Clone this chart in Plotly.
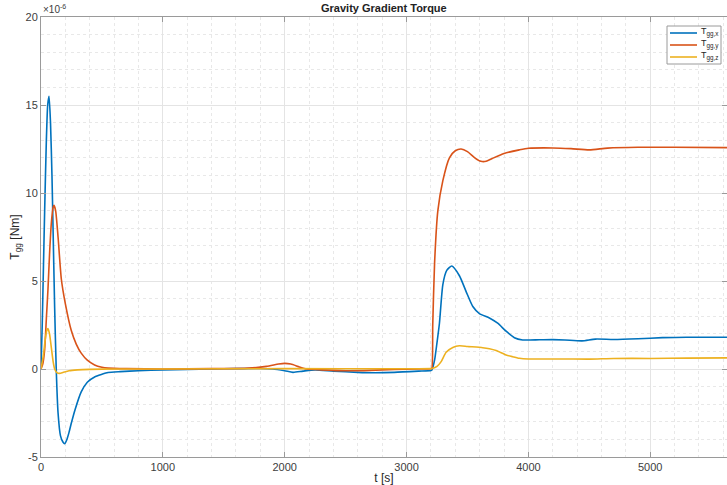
import plotly.graph_objects as go

# ---- data (values in units of 1e-6 Nm) ----
t_x = [0, 10, 20, 30, 44, 55, 66, 78, 90, 98, 112, 125, 140, 160, 180, 194, 210, 230, 248, 280,
       330, 380, 440, 500, 550, 650, 800, 1000, 1200, 1400, 1600, 1800, 1900, 2000, 2068, 2150,
       2250, 2400, 2600, 2720, 2900, 3100, 3200, 3208, 3230, 3250, 3270, 3298, 3330, 3372,
       3434, 3489, 3544, 3598, 3680, 3748, 3817, 3885, 3953, 4090, 4200, 4300, 4440,
       4550, 4700, 4900, 5100, 5300, 5630]
T_x = [0, 2.5, 5.8, 9.0, 13.0, 15.0, 15.5, 14.0, 11.0, 8.3, 3.5, 0, -2.5, -3.8, -4.15, -4.25, -4.05,
       -3.6, -3.1, -2.3, -1.3, -0.75, -0.45, -0.3, -0.2, -0.15, -0.1, -0.05, -0.03, 0, 0.02, 0.03,
       0, -0.1, -0.19, -0.12, -0.05, -0.12, -0.19, -0.21, -0.19, -0.12, -0.08, -0.05, 0.5, 1.5,
       2.6, 4.8, 5.6, 5.85, 5.3, 4.4, 3.55, 3.15, 2.9, 2.6, 2.15, 1.78, 1.65, 1.66,
       1.67, 1.65, 1.6, 1.7, 1.68, 1.72, 1.78, 1.8, 1.8]

t_y = [0, 15, 30, 45, 57, 70, 85, 100, 107, 120, 140, 167, 200, 248, 290, 330, 380, 440, 500,
       550, 700, 1000, 1400, 1700, 1850, 1950, 2000, 2050, 2120, 2180, 2300, 2500, 2700, 2900,
       3100, 3200, 3208, 3215, 3230, 3257, 3298, 3352, 3400, 3448, 3500, 3560, 3610, 3653, 3700,
       3800, 3926, 4000, 4200, 4350, 4500, 4650, 4900, 5200, 5630]
T_y = [0, 0.3, 1.1, 3.0, 4.5, 6.5, 8.3, 9.2, 9.3, 9.0, 7.5, 5.1, 3.7, 2.2, 1.4, 0.9, 0.5, 0.23,
       0.1, 0.05, 0.02, 0, 0.02, 0.05, 0.15, 0.28, 0.32, 0.28, 0.12, 0.0, -0.05, -0.1, -0.08,
       -0.02, 0.0, 0.02, 0.05, 2.5, 6.0, 9.0, 10.7, 12.0, 12.4, 12.5, 12.35, 12.0, 11.8, 11.8,
       11.95, 12.25, 12.45, 12.54, 12.56, 12.52, 12.45, 12.55, 12.6, 12.6, 12.58]

t_z = [0, 20, 35, 48, 57, 70, 85, 100, 112, 130, 153, 180, 230, 300, 400, 600, 1000, 2000, 3000,
       3200, 3210, 3250, 3284, 3325, 3380, 3434, 3500, 3625, 3680, 3735, 3817, 3870, 3926, 4000,
       4300, 4500, 4700, 5000, 5300, 5630]
T_z = [0, 0.8, 1.7, 2.2, 2.3, 2.0, 1.2, 0.4, 0, -0.2, -0.25, -0.2, -0.1, -0.05, -0.02, 0, 0,
       0.02, 0.01, 0.02, 0.03, 0.15, 0.42, 0.95, 1.22, 1.32, 1.28, 1.21, 1.15, 1.05, 0.8, 0.7, 0.61,
       0.57, 0.57, 0.56, 0.6, 0.6, 0.62, 0.63]

names = ["T<sub>gg,x</sub>", "T<sub>gg,y</sub>", "T<sub>gg,z</sub>"]
colors = ["#0072BD", "#D95319", "#EDB120"]

y_tickvals = [-5, 0, 5, 10, 15, 20]
y_ticktext = ["-5", "0", "5", "10", "15", "20"]
x_tickvals = [0, 1000, 2000, 3000, 4000, 5000]

font = "Liberation Sans, Arial, sans-serif"

W, H = 727, 485
ML, MR, MT, MB = 41, 0, 17, 28
PW, PH = W - ML - MR, H - MT - MB


def px(xp):
    return (xp - ML) / PW


def py(yp):
    return (H - MB - yp) / PH


fig = go.Figure()
for t, v, n, c in zip([t_x, t_y, t_z], [T_x, T_y, T_z], names, colors):
    fig.add_trace(go.Scatter(x=t, y=v, mode="lines", name=n, showlegend=False,
                             line=dict(color=c, width=1.6, shape="spline", smoothing=0.6)))

axis_common = dict(
    showline=True, linecolor="#9a9a9a", linewidth=1, mirror="ticks",
    ticks="inside", ticklen=5, tickcolor="#9a9a9a",
    showgrid=True, gridcolor="#e4e4e4", gridwidth=1, zeroline=False,
    tickfont=dict(family=font, size=11, color="#404040"),
    automargin=False,
)

fig.update_layout(
    width=W, height=H,
    margin=dict(l=ML, r=MR, t=MT, b=MB),
    plot_bgcolor="white", paper_bgcolor="white",
    font=dict(family=font, color="#262626"),
    showlegend=False,
    xaxis=dict(range=[0, 5630], tickvals=x_tickvals,
               minor=dict(dtick=200, showgrid=True, gridcolor="#e8e8e8", griddash="dot",
                          ticks=""),
               title=dict(text="t [s]", font=dict(family=font, size=12, color="#262626"),
                          standoff=4),
               **axis_common),
    yaxis=dict(range=[-5, 20], tickvals=y_tickvals, ticktext=y_ticktext,
               minor=dict(dtick=1, showgrid=True, gridcolor="#e8e8e8", griddash="dot",
                          ticks=""),
               title=dict(text="T<sub>gg</sub> [Nm]",
                          font=dict(family=font, size=12, color="#262626"),
                          standoff=3),
               **axis_common),
)

# manual legend (compact, MATLAB style)
fig.add_shape(type="rect", xref="paper", yref="paper",
              x0=px(667), x1=px(721), y0=py(64), y1=py(26),
              line=dict(color="#9a9a9a", width=1), fillcolor="white", layer="above")
leg_y = [33, 45, 57]
for yy, n, c in zip(leg_y, names, colors):
    fig.add_shape(type="line", xref="paper", yref="paper",
                  x0=px(670), x1=px(697), y0=py(yy), y1=py(yy),
                  line=dict(color=c, width=1.6), layer="above")
    fig.add_annotation(text=n, xref="paper", yref="paper", x=px(699), y=py(yy),
                       xanchor="left", yanchor="middle", yshift=1, showarrow=False,
                       font=dict(family=font, size=9, color="#262626"))

fig.add_annotation(text="<b>Gravity Gradient Torque</b>", xref="paper", yref="paper",
                   x=0.5, y=1, yanchor="bottom", yshift=1, showarrow=False,
                   font=dict(family=font, size=11, color="#222222"))
fig.add_annotation(text="×10<sup>-6</sup>", xref="paper", yref="paper",
                   x=0, y=1, xanchor="left", yanchor="bottom", yshift=0, showarrow=False,
                   font=dict(family=font, size=10, color="#404040"))

fig.write_html("out.html")
